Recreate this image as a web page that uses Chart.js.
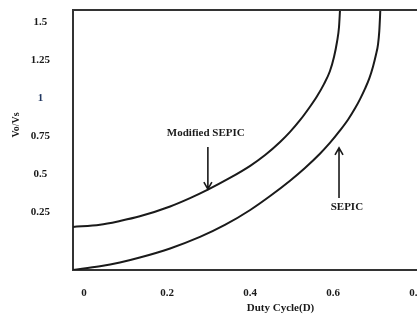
<!DOCTYPE html>
<html>
<head>
<meta charset="utf-8">
<script src="https://cdn.jsdelivr.net/npm/chart.js@4"></script>
<style>
  html, body { margin: 0; padding: 0; background: #fff; overflow: hidden; }
  #wrap { width: 488px; height: 322px; }
</style>
</head>
<body>
<div id="wrap"><canvas id="myChart"></canvas></div>
<script>
// tick labels
const dutyTicks = [0, 0.2, 0.4, 0.6, 0.8];
const gainTicks = [0.25, 0.5, 0.75, 1, 1.25, 1.5];

// SEPIC curve (duty cycle, Vo/Vs)
const sepicD    = [0, 0.065, 0.113, 0.161, 0.234, 0.306, 0.366, 0.427, 0.475, 0.523, 0.559, 0.595, 0.619, 0.643, 0.663, 0.680, 0.692, 0.704, 0.714, 0.723, 0.730, 0.735, 0.7381, 0.7398, 0.7405];
const sepicGain = [0, 0.024, 0.049, 0.082, 0.142, 0.218, 0.297, 0.396, 0.488, 0.589, 0.673, 0.767, 0.838, 0.919, 0.993, 1.068, 1.129, 1.198, 1.264, 1.343, 1.420, 1.489, 1.577, 1.669, 1.715];

// Modified SEPIC curve
const modD    = [0, 0.065, 0.113, 0.161, 0.234, 0.282, 0.325, 0.378, 0.427, 0.463, 0.499, 0.523, 0.547, 0.571, 0.588, 0.605, 0.619, 0.6289, 0.6361, 0.6410, 0.6434];
const modGain = [0.284, 0.298, 0.323, 0.354, 0.419, 0.474, 0.530, 0.607, 0.687, 0.758, 0.844, 0.911, 0.988, 1.077, 1.146, 1.228, 1.311, 1.405, 1.504, 1.603, 1.715];

const toPoints = (xs, ys) => xs.map((v, i) => ({ x: v, y: ys[i] }));

const serif = 'Liberation Serif';
const ink = '#1a1a1a';

// top border, arrows, curve labels and y title
const decorations = {
  id: 'decorations',
  afterDraw(chart) {
    const { ctx, chartArea, scales: { x, y } } = chart;
    ctx.save();
    ctx.strokeStyle = '#333';
    ctx.lineWidth = 2;
    ctx.beginPath();
    ctx.moveTo(chartArea.left - 1, chartArea.top);
    ctx.lineTo(chartArea.right, chartArea.top);
    ctx.stroke();

    ctx.strokeStyle = ink;
    ctx.fillStyle = ink;
    ctx.lineWidth = 1.6;
    ctx.font = 'bold 11px "' + serif + '"';
    ctx.textAlign = 'center';
    ctx.textBaseline = 'middle';

    // Modified SEPIC arrow (points down)
    let ax = x.getPixelForValue(0.325);
    let y0 = y.getPixelForValue(0.811), y1 = y.getPixelForValue(0.534);
    ctx.beginPath();
    ctx.moveTo(ax, y0); ctx.lineTo(ax, y1);
    ctx.moveTo(ax - 4, y1 - 7); ctx.lineTo(ax, y1); ctx.lineTo(ax + 4, y1 - 7);
    ctx.stroke();
    ctx.fillText('Modified SEPIC', x.getPixelForValue(0.320), y.getPixelForValue(0.904));

    // SEPIC arrow (points up)
    ax = x.getPixelForValue(0.641);
    y0 = y.getPixelForValue(0.475); y1 = y.getPixelForValue(0.805);
    ctx.beginPath();
    ctx.moveTo(ax, y0); ctx.lineTo(ax, y1);
    ctx.moveTo(ax - 4, y1 + 7); ctx.lineTo(ax, y1); ctx.lineTo(ax + 4, y1 + 7);
    ctx.stroke();
    ctx.fillText('SEPIC', x.getPixelForValue(0.660), y.getPixelForValue(0.416));

    // y axis title
    ctx.font = 'bold 10px "' + serif + '"';
    ctx.translate(16, 125);
    ctx.rotate(-Math.PI / 2);
    ctx.fillText('Vo/Vs', 0, 0);
    ctx.restore();
  }
};

const ctx = document.getElementById('myChart').getContext('2d');

const myChart = new Chart(ctx, {
  type: 'line',
  data: {
    datasets: [{
      label: 'Modified SEPIC',
      data: toPoints(modD, modGain),
      borderColor: ink,
      borderWidth: 2,
      pointRadius: 0,
      cubicInterpolationMode: 'monotone',
      fill: false
    }, {
      label: 'SEPIC',
      data: toPoints(sepicD, sepicGain),
      borderColor: ink,
      borderWidth: 2,
      pointRadius: 0,
      cubicInterpolationMode: 'monotone',
      fill: false
    }]
  },
  options: {
    responsive: true,
    maintainAspectRatio: false,
    animation: false,
    layout: { padding: { top: 10, left: 0, right: 0, bottom: 0 } },
    plugins: {
      legend: { display: false },
      tooltip: { enabled: false }
    },
    scales: {
      x: {
        type: 'linear',
        min: 0,
        max: 1,
        afterBuildTicks: s => { s.ticks = dutyTicks.map(v => ({ value: v })); },
        afterFit: s => { s.height = 52; s.paddingLeft = 0; s.paddingRight = 0; },
        grid: { display: false, drawTicks: false },
        border: { display: true, color: '#333', width: 2 },
        ticks: {
          padding: 17,
          labelOffset: 11,
          maxRotation: 0,
          color: ink,
          font: { family: serif, size: 11, weight: 'bold' },
          callback: v => String(v)
        },
        title: {
          display: true,
          text: 'Duty Cycle(D)',
          color: ink,
          font: { family: serif, size: 11, weight: 'bold' },
          padding: { top: 0, bottom: 7 }
        }
      },
      y: {
        type: 'linear',
        min: 0,
        max: 1.715,
        afterBuildTicks: s => { s.ticks = gainTicks.map(v => ({ value: v })); },
        afterFit: s => { s.width = 73; s.paddingTop = 0; s.paddingBottom = 0; },
        grid: { display: false, drawTicks: false },
        border: { display: true, color: '#333', width: 2 },
        ticks: {
          padding: 23,
          labelOffset: -20,
          crossAlign: 'center',
          color: c => (c.tick && c.tick.value === 1 ? '#1f3660' : ink),
          font: { family: serif, size: 11, weight: 'bold' },
          callback: v => String(v)
        }
      }
    }
  },
  plugins: [decorations]
});
</script>
</body>
</html>
